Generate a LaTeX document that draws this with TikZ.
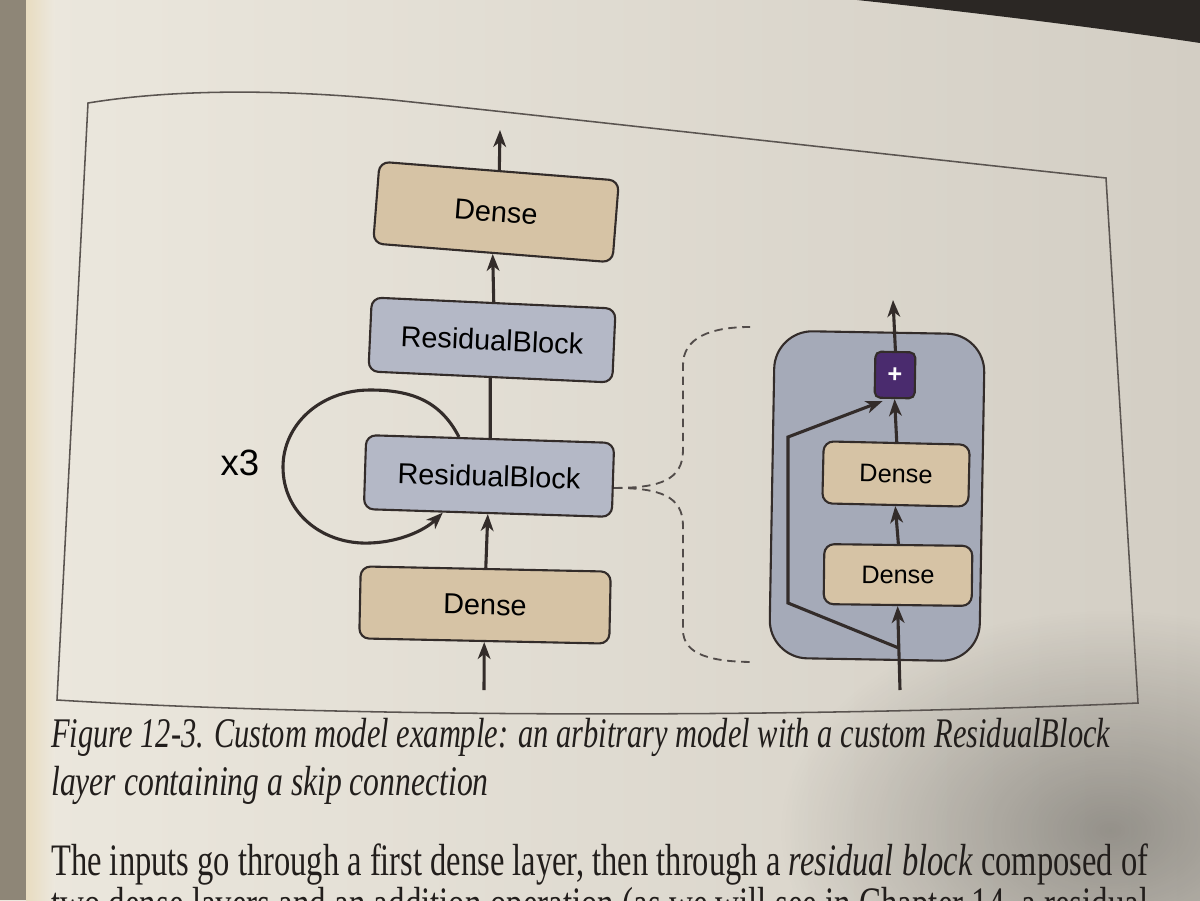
\documentclass[tikz,border=0pt]{standalone}
\usepackage{fontspec}
\setmainfont{Liberation Serif}
\setsansfont{Liberation Sans}
\usetikzlibrary{arrows.meta,calc,fadings}
\definecolor{pagel}{HTML}{ECE8DE}
\definecolor{pager}{HTML}{D3CEC4}
\definecolor{ink}{HTML}{332C2A}
\definecolor{tanfill}{HTML}{D6C3A5}
\definecolor{rbgray}{HTML}{B4B8C6}
\definecolor{boxgray}{HTML}{A5AAB8}
\definecolor{plusc}{HTML}{4A2B6E}
\definecolor{spine}{HTML}{8E8677}
\definecolor{spinel}{HTML}{E8DCC0}
\definecolor{framec}{HTML}{5A5450}
\definecolor{captc}{HTML}{221E1C}
\definecolor{shadowc}{HTML}{2B2724}
\tikzfading[name=softspot, inner color=transparent!0, outer color=transparent!100]
\begin{document}
\begin{tikzpicture}[x=0.025cm,y=-0.025cm,
  stroke/.style={draw=ink, line width=1.5pt},
  blk/.style={stroke, rounded corners=7pt, inner sep=0pt, text=black,
              font=\sffamily\fontsize{20.5}{24}\selectfont},
  densebox/.style={blk, fill=tanfill},
  resbox/.style={blk, fill=rbgray},
  smalldense/.style={densebox, font=\sffamily\fontsize{18}{21}\selectfont},
  flow/.style={draw=ink, line width=2.2pt, line join=miter,
               -{Stealth[length=12pt,width=9pt,inset=3.5pt]}},
  plainline/.style={draw=ink, line width=2.2pt},
  bracket/.style={draw=ink!85, line width=1.3pt, dash pattern=on 6pt off 4pt},
  captline/.style={anchor=base west, inner sep=0pt, text=captc}]
% page
\shade[left color=pagel, right color=pager] (0,0) rectangle (1200,900);
\useasboundingbox (0,0) rectangle (1200,900);
\fill[spine] (0,0) rectangle (26,900);
\shade[left color=spinel, right color=pagel] (26,0) rectangle (55,900);
\fill[shadowc] (857,0) .. controls (950,10) and (1080,25) .. (1200,43) -- (1200,0) -- cycle;
\fill[black, opacity=0.3, path fading=softspot] (1110,830) ellipse (330 and 220);

% figure frame
\draw[framec, line width=1.1pt] (57,700) -- (88,103)
  .. controls (180,88) and (290,90) .. (393,100)
  .. controls (600,122) and (900,156) .. (1106,178)
  -- (1138,703) .. controls (800,718) and (350,718) .. cycle;

% main stack
\node[densebox, minimum width=6.0cm, minimum height=2.05cm, rotate=-4.5] (d1) at (496,212) {Dense};
\node[resbox, minimum width=6.1cm, minimum height=1.85cm, rotate=-2.6] (r1) at (492,340) {ResidualBlock};
\node[resbox, minimum width=6.2cm, minimum height=1.85cm, rotate=-1.8] (r2) at (489,476) {ResidualBlock};
\node[densebox, minimum width=6.25cm, minimum height=1.8cm, rotate=-1.2] (d0) at (485,605) {Dense};
\coordinate (out1) at (500,130);
\coordinate (in1) at (484,690);
\draw[flow] (d1.north) -- (out1);
\draw[flow] (r1.north) -- (d1.south);
\draw[plainline] (r2.north) -- (r1.south);
\draw[flow] (d0.north) -- (r2.south);
\draw[flow] (in1) -- (d0.south);

% repeat loop
\coordinate (ls) at ($(r2.north west)!0.375!(r2.north east)$);
\coordinate (le) at ($(r2.south west)!0.32!(r2.south east)$);
\draw[flow] (ls) .. controls (440,400) and (410,390) .. (370,390)
  .. controls (320,390) and (283,425) .. (283,467)
  .. controls (283,515) and (325,545) .. (370,543)
  .. controls (400,542) and (425,530) .. (le);
\node[font=\sffamily\fontsize{26}{30}\selectfont, text=black, inner sep=0pt] (x3) at (240,463) {x3};

% dashed bracket
\coordinate (bs) at ($(r2.east)+(0,8)$);
\coordinate (bt) at (750,327);
\coordinate (bb) at (755,662);
\draw[bracket] (bs) .. controls (660,488) and (683,480) .. (683,450)
  -- (683,365) .. controls (683,338) and (710,327) .. (bt);
\draw[bracket] (bs) .. controls (660,488) and (683,496) .. (683,526)
  -- (683,630) .. controls (683,655) and (712,662) .. (bb);

% residual block detail
\node[stroke, fill=boxgray, rounded corners=0.95cm, minimum width=5.25cm, minimum height=8.175cm, rotate=-1] (rb) at (877,496) {};
\node[stroke, fill=plusc, rounded corners=4pt, minimum width=1.0cm, minimum height=1.15cm, inner sep=0pt,
      text=white, font=\sffamily\bfseries\fontsize{18}{20}\selectfont, rotate=-1] (p) at (895,375) {+};
\node[smalldense, minimum width=3.65cm, minimum height=1.55cm, rotate=-1.3] (da) at (896,474) {Dense};
\node[smalldense, minimum width=3.7cm, minimum height=1.5cm, rotate=-0.7] (db) at (898,575) {Dense};
\coordinate (out2) at (893,300);
\coordinate (in2) at (900,690);
\draw[flow] (p.north) -- (out2);
\draw[flow] (da.north) -- (p.south);
\draw[flow] (db.north) -- (da.south);
\draw[flow] (in2) -- (db.south);
\coordinate (j) at ($(in2)!0.5!(db.south)$);
\coordinate (c1) at (788,603);
\coordinate (c2) at (788,437);
\coordinate (pe) at ($(p.south)+(-12,2)$);
\draw[flow] (j) -- (c1) -- (c2) -- (pe);

% caption and body text
\node[captline] (cap1) at (51,747) {\resizebox{753pt}{\height}{\fontsize{30}{36}\selectfont\itshape Figure 12-3. Custom model example: an arbitrary model with a custom ResidualBlock}};
\node[captline] (cap2) at (51,795) {\resizebox{311pt}{\height}{\fontsize{30}{36}\selectfont\itshape layer containing a skip connection}};
\node[captline] (body1) at (51,875) {\resizebox{780pt}{\height}{\fontsize{32}{38}\selectfont The inputs go through a first dense layer, then through a \textit{residual block} composed of}};
\node[captline] (body2) at (51,918) {\resizebox{780pt}{\height}{\fontsize{32}{38}\selectfont two dense layers and an addition operation (as we will see in Chapter 14, a residual}};
\end{tikzpicture}
\end{document}
